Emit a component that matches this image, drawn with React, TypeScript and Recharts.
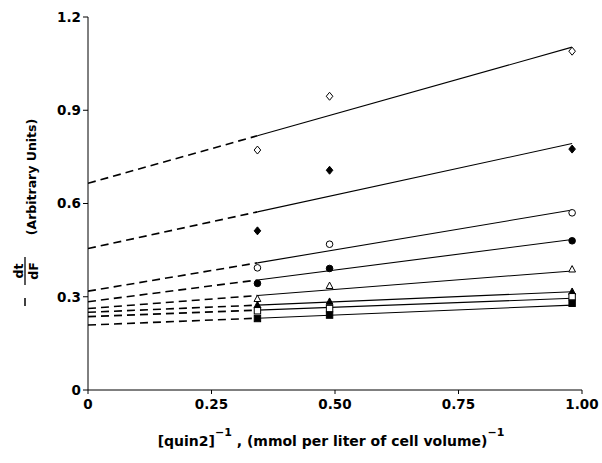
import { ComposedChart, Line, Scatter, XAxis, YAxis, Label } from 'recharts';

// x positions of the measured points, (mmol/l cell volume)^-1
const X_POINTS = [0.343, 0.489, 0.98];

// measured -dt/dF values, one array per symbol
const OPEN_DIAMOND = [0.772, 0.945, 1.09];
const FILLED_DIAMOND = [0.512, 0.707, 0.775];
const OPEN_CIRCLE = [0.393, 0.469, 0.570];
const FILLED_CIRCLE = [0.343, 0.391, 0.480];
const OPEN_TRIANGLE = [0.293, 0.335, 0.388];
const FILLED_TRIANGLE = [0.273, 0.284, 0.316];
const OPEN_SQUARE = [0.255, 0.262, 0.300];
const FILLED_SQUARE = [0.230, 0.241, 0.279];

// fitted lines: dashed extrapolation 0 -> break, solid break -> end
const LINE_X = [0, 0.343, 0.98];
const LINE_AT_ZERO = [0.665, 0.455, 0.318, 0.284, 0.262, 0.250, 0.236, 0.209];
const LINE_AT_BREAK = [0.818, 0.573, 0.409, 0.354, 0.304, 0.273, 0.257, 0.231];
const LINE_AT_END = [1.103, 0.793, 0.579, 0.484, 0.383, 0.316, 0.295, 0.273];

const X_TICKS = [0, 0.25, 0.5, 0.75, 1.0];
const X_TICK_LABELS = ['0', '0.25', '0.50', '0.75', '1.00'];
const Y_TICKS = [0, 0.3, 0.6, 0.9, 1.2];
const Y_TICK_LABELS = ['0', '0.3', '0.6', '0.9', '1.2'];

const FONT = '"DejaVu Sans", sans-serif';
const INK = '#000';

type Kind = 'diamond' | 'circle' | 'triangle' | 'square';

const SERIES: Array<{ name: string; values: number[]; kind: Kind; filled: boolean }> = [
  { name: 'open diamond', values: OPEN_DIAMOND, kind: 'diamond', filled: false },
  { name: 'filled diamond', values: FILLED_DIAMOND, kind: 'diamond', filled: true },
  { name: 'open circle', values: OPEN_CIRCLE, kind: 'circle', filled: false },
  { name: 'filled circle', values: FILLED_CIRCLE, kind: 'circle', filled: true },
  { name: 'open triangle', values: OPEN_TRIANGLE, kind: 'triangle', filled: false },
  { name: 'filled triangle', values: FILLED_TRIANGLE, kind: 'triangle', filled: true },
  { name: 'open square', values: OPEN_SQUARE, kind: 'square', filled: false },
  { name: 'filled square', values: FILLED_SQUARE, kind: 'square', filled: true },
];

function makeMarker(kind: Kind, filled: boolean) {
  return (props: any) => {
    const { cx, cy } = props;
    if (cx == null || cy == null) return <g />;
    const fill = filled ? INK : '#fff';
    const common = { fill, stroke: INK, strokeWidth: 1 };
    if (kind === 'diamond') {
      return <path d={`M${cx},${cy - 4} L${cx + 3.3},${cy} L${cx},${cy + 4} L${cx - 3.3},${cy} Z`} {...common} />;
    }
    if (kind === 'circle') {
      return <circle cx={cx} cy={cy} r={3.3} {...common} />;
    }
    if (kind === 'triangle') {
      return <path d={`M${cx},${cy - 3.8} L${cx + 3.4},${cy + 2.6} L${cx - 3.4},${cy + 2.6} Z`} {...common} />;
    }
    return <rect x={cx - 3.2} y={cy - 3.2} width={6.4} height={6.4} {...common} />;
  };
}

function YTitle() {
  return (
    <g fill={INK} fontFamily={FONT} fontWeight="bold">
      <text transform="translate(31,177) rotate(-90)" textAnchor="middle" dominantBaseline="central" fontSize={12.5}>
        (Arbitrary Units)
      </text>
      <text transform="translate(18,271) rotate(-90)" textAnchor="middle" dominantBaseline="central" fontSize={12.5}>
        dt
      </text>
      <line x1={25} y1={257} x2={25} y2={285} stroke={INK} strokeWidth={1.3} />
      <text transform="translate(33,271) rotate(-90)" textAnchor="middle" dominantBaseline="central" fontSize={12.5}>
        dF
      </text>
      <line x1={25} y1={298} x2={25} y2={306} stroke={INK} strokeWidth={1.5} />
    </g>
  );
}

function XTitle() {
  return (
    <text x={331} y={446} textAnchor="middle" fill={INK} fontFamily={FONT} fontWeight="bold" fontSize={14}>
      <tspan>[quin2]</tspan>
      <tspan dy={-10} fontSize={11}>−1</tspan>
      <tspan dy={10}> , (mmol per liter of cell volume)</tspan>
      <tspan dy={-10} fontSize={11}>−1</tspan>
    </text>
  );
}

export default function App() {
  const lines = LINE_AT_ZERO.map((y0, i) => ({
    dashed: [
      { x: LINE_X[0], y: y0 },
      { x: LINE_X[1], y: LINE_AT_BREAK[i] },
    ],
    solid: [
      { x: LINE_X[1], y: LINE_AT_BREAK[i] },
      { x: LINE_X[2], y: LINE_AT_END[i] },
    ],
  }));

  return (
    <div style={{ position: 'absolute', left: 0, top: 0, width: 602, height: 463, background: '#fff' }}>
      <ComposedChart width={602} height={463} margin={{ top: 17, right: 20, left: 0, bottom: 0 }}>
        <XAxis
          dataKey="x"
          type="number"
          domain={[0, 1]}
          ticks={X_TICKS}
          tickFormatter={(v: number) => X_TICK_LABELS[X_TICKS.indexOf(v)] ?? String(v)}
          height={73}
          tickSize={4}
          tickMargin={5}
          stroke={INK}
          tick={{ fill: INK, fontFamily: FONT, fontWeight: 'bold', fontSize: 13.5 }}
          allowDataOverflow
        >
          <Label content={() => <XTitle />} />
        </XAxis>
        <YAxis
          dataKey="y"
          type="number"
          domain={[0, 1.2]}
          ticks={Y_TICKS}
          tickFormatter={(v: number) => Y_TICK_LABELS[Y_TICKS.indexOf(v)] ?? String(v)}
          width={88}
          tickSize={5}
          tickMargin={2}
          stroke={INK}
          tick={{ fill: INK, fontFamily: FONT, fontWeight: 'bold', fontSize: 13.5 }}
          allowDataOverflow
        >
          <Label content={() => <YTitle />} />
        </YAxis>
        {lines.map((l, i) => (
          <Line
            key={`d${i}`}
            data={l.dashed}
            dataKey="y"
            type="linear"
            stroke={INK}
            strokeWidth={1.6}
            strokeDasharray="8 5"
            dot={false}
            activeDot={false}
            isAnimationActive={false}
          />
        ))}
        {lines.map((l, i) => (
          <Line
            key={`s${i}`}
            data={l.solid}
            dataKey="y"
            type="linear"
            stroke={INK}
            strokeWidth={1.1}
            dot={false}
            activeDot={false}
            isAnimationActive={false}
          />
        ))}
        {SERIES.map((s) => (
          <Scatter
            key={s.name}
            name={s.name}
            data={s.values.map((y, j) => ({ x: X_POINTS[j], y }))}
            dataKey="y"
            shape={makeMarker(s.kind, s.filled)}
            isAnimationActive={false}
          />
        ))}
      </ComposedChart>
    </div>
  );
}
